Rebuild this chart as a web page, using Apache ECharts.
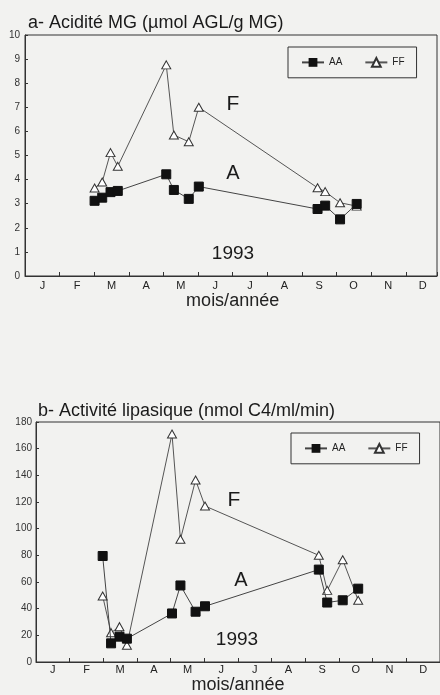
<!DOCTYPE html>
<html><head><meta charset="utf-8">
<script src="https://cdn.jsdelivr.net/npm/echarts@6/dist/echarts.min.js"></script>
<style>html,body{margin:0;padding:0;background:#f2f2f0}#c{width:440px;height:695px}</style>
</head><body><div id="c"></div>
<script>
const months = ['J','F','M','A','M','J','J','A','S','O','N','D'];
// x positions in months since Jan 1 (1993)
const dateA = [2.01, 2.23, 2.47, 2.68, 4.08, 4.30, 4.73, 5.02, 8.45, 8.67, 9.10, 9.58];
const acidAA = [3.12, 3.25, 3.48, 3.53, 4.22, 3.57, 3.20, 3.71, 2.78, 2.92, 2.35, 2.99];
const acidFF = [3.65, 3.90, 5.12, 4.55, 8.76, 5.85, 5.57, 7.00, 3.66, 3.50, 3.04, 2.90];
const dateB = [1.98, 2.23, 2.48, 2.70, 4.04, 4.29, 4.74, 5.02, 8.40, 8.65, 9.11, 9.57];
const lipAA = [79.5, 14, 19, 17.5, 36.4, 57.4, 37.7, 41.8, 69.3, 44.6, 46.3, 55];
const lipFF = [49.5, 22, 26.5, 12.5, 171, 92, 136.5, 117, 80, 53.7, 76.7, 46.3];
const yTicksA = {min: 0, max: 10, interval: 1};
const yTicksB = {min: 0, max: 180, interval: 20};

const FONT = '"Liberation Sans", Arial, sans-serif';
const INK = '#333';
const pairs = (xs, ys) => xs.map((x, i) => [x, ys[i]]);

function valueX(grid, max) {
  return {type: 'value', gridIndex: grid, min: 0, max: max, interval: 1, position: 'bottom',
    axisLine: {show: true, onZero: false, lineStyle: {color: INK, width: 1}},
    axisTick: {show: true, inside: true, length: 4, lineStyle: {color: INK}},
    axisLabel: {show: false}, splitLine: {show: false}};
}
function monthX(grid, margin, gap) {
  return {type: 'category', gridIndex: grid, data: months, boundaryGap: true, position: 'bottom', offset: 0,
    axisLine: {show: false}, axisTick: {show: false},
    axisLabel: {margin: margin, fontSize: 11, color: '#222', fontFamily: FONT},
    name: 'mois/année', nameLocation: 'middle', nameGap: gap,
    nameTextStyle: {fontSize: 18, color: '#222', fontFamily: FONT}};
}
function valueY(grid, t, margin) {
  return {type: 'value', gridIndex: grid, min: t.min, max: t.max, interval: t.interval,
    axisLine: {show: true, lineStyle: {color: INK, width: 1}},
    axisTick: {show: true, inside: true, length: 3, lineStyle: {color: INK}},
    axisLabel: {margin: margin, fontSize: 10, color: '#333', fontFamily: FONT},
    splitLine: {show: false}};
}
function aa(x, y, data) {
  return {name: 'AA', type: 'line', xAxisIndex: x, yAxisIndex: y, data: data, z: 4,
    symbol: 'rect', symbolSize: 9, lineStyle: {color: '#444', width: 1},
    itemStyle: {color: '#111', borderColor: '#111'}, animation: false};
}
function ff(x, y, data) {
  return {name: 'FF', type: 'line', xAxisIndex: x, yAxisIndex: y, data: data, z: 3,
    symbol: 'triangle', symbolSize: [9, 8], lineStyle: {color: '#555', width: 1},
    itemStyle: {color: '#fff', borderColor: '#333', borderWidth: 1}, animation: false};
}
function legend(left, top) {
  return {left: left, top: top, data: ['AA', 'FF'], orient: 'horizontal',
    itemWidth: 22, itemHeight: 11, itemGap: 22, padding: [10, 12, 10, 13],
    borderColor: '#333', borderWidth: 1, backgroundColor: 'transparent',
    textStyle: {fontSize: 10, color: '#222', fontFamily: FONT}, selectedMode: false};
}
function txt(text, x, y, size) {
  return {type: 'text', style: {text: text, x: x, y: y, align: 'center', verticalAlign: 'middle',
    font: size + 'px ' + FONT, fill: '#1a1a1a'}};
}

const chart = echarts.init(document.getElementById('c'), null, {renderer: 'canvas'});
chart.setOption({
  backgroundColor: '#f2f2f0',
  animation: false,
  title: [
    {text: 'a- Acidité MG (µmol AGL/g MG)', left: 23, top: 9,
     textStyle: {fontSize: 18, fontWeight: 'normal', color: '#1a1a1a', fontFamily: FONT}},
    {text: 'b- Activité lipasique (nmol C4/ml/min)', left: 33, top: 397,
     textStyle: {fontSize: 18, fontWeight: 'normal', color: '#1a1a1a', fontFamily: FONT}}
  ],
  legend: [legend(288, 47), legend(291, 433)],
  grid: [
    {left: 25, top: 35, width: 412, height: 241, show: true, borderColor: INK, borderWidth: 1, backgroundColor: 'transparent'},
    {left: 25.3, top: 35, width: 416, height: 241},
    {left: 36, top: 422, width: 408, height: 242, show: true, borderColor: INK, borderWidth: 1, backgroundColor: 'transparent'}
  ],
  xAxis: [valueX(0, 11.9), monthX(1, 4, 15), valueX(2, 12), monthX(2, 2, 14)],
  yAxis: [valueY(0, yTicksA, 5), Object.assign(valueY(1, yTicksA, 5), {show: false}), valueY(2, yTicksB, 4)],
  series: [
    ff(0, 0, pairs(dateA, acidFF)),
    aa(0, 0, pairs(dateA, acidAA)),
    ff(2, 2, pairs(dateB, lipFF)),
    aa(2, 2, pairs(dateB, lipAA))
  ],
  graphic: [
    txt('F', 233, 104, 21), txt('A', 233, 173, 20), txt('1993', 233, 254, 19),
    txt('F', 234, 500, 21), txt('A', 241, 580, 20), txt('1993', 237, 640, 19)
  ]
});
</script></body></html>
